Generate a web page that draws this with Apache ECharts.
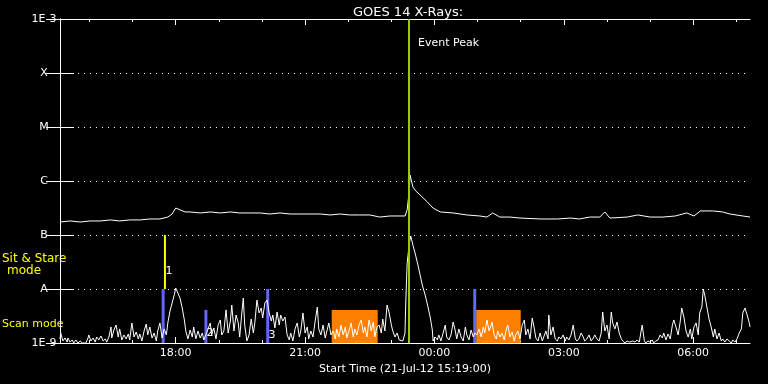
<!DOCTYPE html>
<html><head><meta charset="utf-8">
<script src="https://cdn.jsdelivr.net/npm/echarts@6/dist/echarts.min.js"></script>
<style>html,body{margin:0;padding:0;background:#000;}#c{width:768px;height:384px;}</style>
</head><body><div id="c"></div>
<script>
// Time: minutes since start 21-Jul-12 15:19:00.  Flux: units of 1e-9 W m^-2.
const titleText = 'GOES 14 X-Rays:';
const xAxisName = 'Start Time (21-Jul-12 15:19:00)';
const T_END = 960;
const majorTickTimes = [161, 341, 521, 701, 881];
const tickLabels = ['18:00', '21:00', '00:00', '03:00', '06:00'];
const minorTickTimes = [41, 101, 161, 221, 281, 341, 401, 461, 521, 581, 641, 701, 761, 821, 881, 941];
const yLevels = [1, 10, 100, 1000, 10000, 100000, 1000000];
const yLabels = ['1E-9', 'A', 'B', 'C', 'M', 'X', '1E-3'];

// short-wavelength channel (lower noisy trace)
const shortChannel = [
[0,1.19],[1,1.53],[4,1.09],[7,1.24],[10,1.04],[11,1.24],[14,1.04],[17,1.14],[19,1],[22,1.14],[25,1],[28,1.09],[31,1],[33,1.04],[36,1],[39,1.24],[40,1.41],[43,1.09],[46,1.24],[49,1.04],[51,1.29],[54,1.14],[57,1.35],[60,1.09],[63,1.19],[65,1.04],[68,1.29],[71,1.98],[72,1.24],[75,1.74],[78,2.15],[81,1.29],[83,1.82],[86,1.14],[89,1.41],[92,1.19],[95,1.47],[97,1.14],[100,2.35],[103,1.29],[106,1.6],[109,1.19],[111,1.47],[114,1.09],[117,1.67],[120,2.25],[122,1.41],[125,1.98],[128,1.24],[131,1.53],[134,1.09],[136,1.67],[139,2.35],[142,1.24],[145,1.82],[148,1.41],[150,2.35],[153,3.9],[156,5.5],[159,7.8],[161,10.4],[164,8.4],[167,6.8],[170,4.45],[173,2.67],[175,1.67],[178,1.19],[181,1.74],[184,1.29],[186,1.98],[189,1.19],[192,1.67],[195,1.24],
[198,1.53],[200,1.14],[203,1.41],[206,1.82],[209,2.35],[211,1.41],[214,1.9],[217,1.19],[220,2.15],[223,2.67],[225,1.41],[228,1.67],[231,4.1],[234,1.53],[237,2.55],[239,5.05],[242,1.67],[245,3.3],[248,2.35],[250,1.29],[253,3.6],[255,6.8],[257,2.15],[260,1.09],[263,1.41],[266,2.78],[269,1.53],[271,2.35],[274,6.25],[277,3.6],[280,4.45],[282,2.9],[285,5.5],[288,6.25],[291,3.6],[294,2.55],[296,3.3],[299,1.9],[302,3.75],[305,2.15],[307,3.3],[310,2.55],[313,3.03],[316,1.41],[319,1.14],[321,1.53],[324,1.09],[327,1.82],[330,2.35],[333,1.29],[335,1.67],[338,3.6],[341,1.53],[344,1.98],[346,1.19],[349,1.67],[352,1.29],[355,2.55],[358,4.64],[360,1.82],[363,1.41],[366,2.15],[369,1.24],[372,1.82],[374,2.35],[377,1.41],
[380,1.67],[383,1.19],[385,1.82],[388,1.29],[391,2.15],[394,1.41],[397,1.98],[399,1.24],[402,1.67],[405,2.35],[408,1.29],[410,1.82],[413,1.41],[416,2.15],[419,2.67],[422,1.53],[424,1.98],[427,1.29],[430,2.67],[433,1.67],[436,2.45],[438,1.29],[441,1.98],[444,2.15],[447,1.53],[449,2.78],[452,1.67],[455,5.05],[458,3.6],[461,2.15],[463,1.67],[466,1.29],[469,1.53],[472,1.14],[474,1.24],[477,1.09],[480,1.53],[481,5.5],[483,30.3],[486,71],[488,95.7],[491,65],[494,46.4],[498,27.8],[501,18.2],[504,11.9],[508,7.74],[512,4.64],[515,3.03],[518,1.74],[519,1.09],[522,1.29],[525,1.14],[527,1.41],[530,1.09],[533,1.53],[536,2.15],[538,1.29],[541,1.14],[544,1.41],[547,2.45],[550,1.67],[552,1.19],[555,1.82],[558,1.29],[561,1.09],[564,1.98],[566,1.41],[569,1.14],[572,1.74],[575,1.29],[577,1.53],
[580,1.41],[583,1.82],[586,1.29],[589,1.98],[591,1.53],[594,2.67],[597,1.67],[600,2.15],[601,2.45],[604,1.41],[607,1.19],[609,1.67],[612,1.29],[615,1.53],[618,1.14],[621,1.82],[623,2.15],[626,1.29],[629,1.6],[632,1.09],[634,1.41],[637,1.67],[640,1.19],[643,2.15],[646,2.67],[648,1.41],[651,1.82],[654,1.19],[657,2.9],[660,1.82],[662,1.24],[665,1.09],[668,1.53],[671,1.09],[673,1.29],[676,1.67],[679,1.19],[680,3.3],[683,1.41],[686,1.98],[689,1.19],[692,1.09],[694,1.29],[697,1.19],[700,1.41],[703,1.09],[705,1.29],[708,1.14],[711,1.41],[714,2.15],[717,1.19],[719,1.09],[722,1.19],[725,1.53],[728,1.29],[730,1.09],[733,1.19],[736,1.41],[739,1.09],[742,1.24],[744,1.41],[747,1.19],[750,1.09],[753,1.53],[755,3.75],[758,1.67],[761,2.15],[764,1.19],[767,3.75],[769,2.35],
[772,1.82],[775,2.45],[778,1.53],[781,1.19],[783,1.09],[786,1],[789,1.09],[792,1.04],[794,1],[797,1.09],[800,1.04],[803,1.14],[806,1.04],[808,1.53],[810,2.15],[813,1.09],[815,1],[818,1.09],[821,1.04],[824,1.14],[826,1],[829,1.09],[832,1.14],[835,1.41],[838,1.24],[840,1.53],[843,1.14],[846,1.47],[849,1.19],[852,2.15],[854,2.67],[857,1.98],[860,1.41],[863,2.55],[865,4.45],[868,3.03],[871,1.67],[874,1.29],[877,1.82],[879,1.19],[882,1.98],[885,2.35],[888,1.41],[890,3.6],[893,4.64],[895,10],[897,7.74],[900,4.64],[903,2.78],[906,1.98],[909,1.29],[911,1.82],[914,1.19],[917,1.53],[920,1.09],[922,1.19],[925,1.04],[928,1.19],[931,1.09],[934,1],[936,1.14],[939,1.04],[942,1.19],[945,1.53],[948,1.82],[950,3.6],[953,4.45],[956,3.3],[959,2.35],[960,1.98]
];

// long-wavelength channel (upper trace)
const longChannel = [
[0,174],[14,182],[28,174],[42,182],[56,182],[70,190],[83,182],[97,190],[111,190],[125,198],[139,198],[150,215],[156,245],[161,316],[167,292],[174,267],[181,267],[195,256],[209,267],[223,256],[237,267],[250,256],[264,256],[278,256],[292,245],[306,256],[320,245],[334,245],[348,245],[362,245],[376,235],[390,245],[403,235],[417,235],[431,235],[445,215],[459,225],[473,225],[480,225],[483,292],[486,681],[487,1292],[491,771],[495,653],[501,551],[511,409],[519,316],[529,267],[547,256],[566,235],[584,225],[594,215],[602,256],[612,215],[626,215],[640,206],[668,198],[692,198],[710,206],[723,198],[737,215],[751,215],[758,267],[765,206],[789,215],[804,235],[821,215],[839,215],[856,225],[872,256],[882,225],[891,279],[908,279],[922,267],[932,245],[950,225],[960,215]
];

const eventPeakTime = 485.6;
const eventLabel = 'Event Peak';
// scan-mode periods [start, end, top flux]
const scanBoxes = [[378, 442, 4.1], [579, 641, 4.1]];
// scan markers [time, top flux]
const scanMarkers = [[143.5, 10], [203, 4.1], [289, 10], [577, 10]];
// sit & stare markers [time, bottom flux, top flux]
const stareMarkers = [[146, 10, 100]];
// marker numbers [time, flux] and their text
const markerNumPos = [[151.6, 21.5], [208.7, 1.53], [295, 1.41]];
const markerNumText = ['1', '2', '3'];

const FONT = 'DejaVu Sans';
const chart = echarts.init(document.getElementById('c'), null, {renderer: 'canvas', width: 768, height: 384});
const xBase = {type: 'value', min: 0, max: T_END, splitLine: {show: false}};
const tickStyle = {color: '#fff', width: 1};

const option = {
  backgroundColor: '#000',
  animation: false,
  title: {text: titleText, left: 403, top: 1, textAlign: 'center',
    textStyle: {color: '#fff', fontFamily: FONT, fontSize: 13, fontWeight: 'normal'}},
  grid: {left: 60, right: 18, top: 19, bottom: 41},
  graphic: [
    {type: 'text', x: 2, y: 259, style: {text: 'Sit & Stare', fill: '#ffff00', font: '12px ' + FONT, verticalAlign: 'middle'}},
    {type: 'text', x: 24, y: 271, style: {text: 'mode', fill: '#ffff00', font: '12px ' + FONT, align: 'center', verticalAlign: 'middle'}},
    {type: 'text', x: 2, y: 324, style: {text: 'Scan mode', fill: '#ffff00', font: '11px ' + FONT, verticalAlign: 'middle'}}
  ],
  xAxis: [
    Object.assign({}, xBase, {position: 'bottom',
      axisLine: {show: true, lineStyle: tickStyle},
      axisTick: {show: true, inside: true, length: 6, customValues: majorTickTimes, lineStyle: tickStyle},
      axisLabel: {show: true, customValues: majorTickTimes, color: '#fff', fontFamily: FONT, fontSize: 11, margin: 5,
        formatter: v => tickLabels[majorTickTimes.indexOf(v)]},
      name: xAxisName, nameLocation: 'middle', nameGap: 20,
      nameTextStyle: {color: '#fff', fontFamily: FONT, fontSize: 11}}),
    Object.assign({}, xBase, {position: 'bottom', axisLine: {show: false},
      axisTick: {show: true, inside: true, length: 3, customValues: minorTickTimes, lineStyle: tickStyle},
      axisLabel: {show: false}}),
    Object.assign({}, xBase, {position: 'top', axisLine: {show: true, lineStyle: tickStyle},
      axisTick: {show: true, inside: true, length: 6, customValues: majorTickTimes, lineStyle: tickStyle},
      axisLabel: {show: false}}),
    Object.assign({}, xBase, {position: 'top', axisLine: {show: false},
      axisTick: {show: true, inside: true, length: 3, customValues: minorTickTimes, lineStyle: tickStyle},
      axisLabel: {show: false}})
  ],
  yAxis: [
    {type: 'log', logBase: 10, min: 1, max: 1e6, position: 'left', splitNumber: 6,
      axisLine: {show: true, lineStyle: tickStyle},
      axisTick: {show: true, inside: true, length: 14, customValues: yLevels, lineStyle: tickStyle},
      axisLabel: {show: true, customValues: yLevels, color: '#fff', fontFamily: FONT, fontSize: 11, margin: 16, align: 'center',
        formatter: v => yLabels[Math.round(Math.log10(v))]},
      splitLine: {show: true, lineStyle: {color: '#fff', width: 1, type: [1, 5]}}},
    {type: 'log', logBase: 10, min: 1, max: 1e6, position: 'right', splitNumber: 6,
      axisLine: {show: true, lineStyle: tickStyle},
      axisTick: {show: true, inside: true, length: 14, customValues: yLevels, lineStyle: tickStyle},
      axisLabel: {show: false}, splitLine: {show: false}}
  ],
  series: [
    {type: 'custom', name: 'scanBoxes', data: scanBoxes, z: 1, clip: true,
      renderItem: (p, api) => {
        const a = api.coord([api.value(0), api.value(2)]);
        const b = api.coord([api.value(1), 1]);
        return {type: 'rect', shape: {x: a[0], y: a[1], width: b[0] - a[0], height: b[1] - a[1]}, style: {fill: '#ff8000'}};
      }},
    {type: 'custom', name: 'scanMarkers', data: scanMarkers, z: 1, clip: true,
      renderItem: (p, api) => {
        const a = api.coord([api.value(0), api.value(1)]);
        const b = api.coord([api.value(0), 1]);
        return {type: 'rect', shape: {x: a[0] - 1.5, y: a[1], width: 3, height: b[1] - a[1]}, style: {fill: '#6464ff'}};
      }},
    {type: 'custom', name: 'stareMarkers', data: stareMarkers, z: 1, clip: true,
      renderItem: (p, api) => {
        const a = api.coord([api.value(0), api.value(2)]);
        const b = api.coord([api.value(0), api.value(1)]);
        return {type: 'rect', shape: {x: a[0] - 1, y: a[1], width: 2, height: b[1] - a[1]}, style: {fill: '#ffff00'}};
      }},
    {type: 'line', name: 'short', data: shortChannel, symbol: 'none', z: 3, clip: true,
      lineStyle: {color: '#fff', width: 1}},
    {type: 'line', name: 'long', data: longChannel, symbol: 'none', z: 3, clip: true,
      lineStyle: {color: '#fff', width: 1},
      markLine: {silent: true, symbol: ['none', 'none'], label: {show: false}, z: 5,
        lineStyle: {color: '#99cc00', width: 2, type: 'solid'}, emphasis: {disabled: true},
        data: [{xAxis: eventPeakTime}]}},
    {type: 'custom', name: 'markerNums', data: markerNumPos, z: 6,
      renderItem: (p, api) => {
        const c = api.coord([api.value(0), api.value(1)]);
        return {type: 'text', x: c[0], y: c[1], style: {text: markerNumText[p.dataIndex], fill: '#fff', font: '11px ' + FONT, align: 'center', verticalAlign: 'middle'}};
      }},
    {type: 'custom', name: 'eventLabel', data: [[eventPeakTime, 3.6e5]], z: 6,
      renderItem: (p, api) => {
        const c = api.coord([api.value(0), api.value(1)]);
        return {type: 'text', x: c[0] + 9, y: c[1], style: {text: eventLabel, fill: '#fff', font: '11px ' + FONT, verticalAlign: 'middle'}};
      }}
  ]
};
chart.setOption(option);
</script></body></html>
